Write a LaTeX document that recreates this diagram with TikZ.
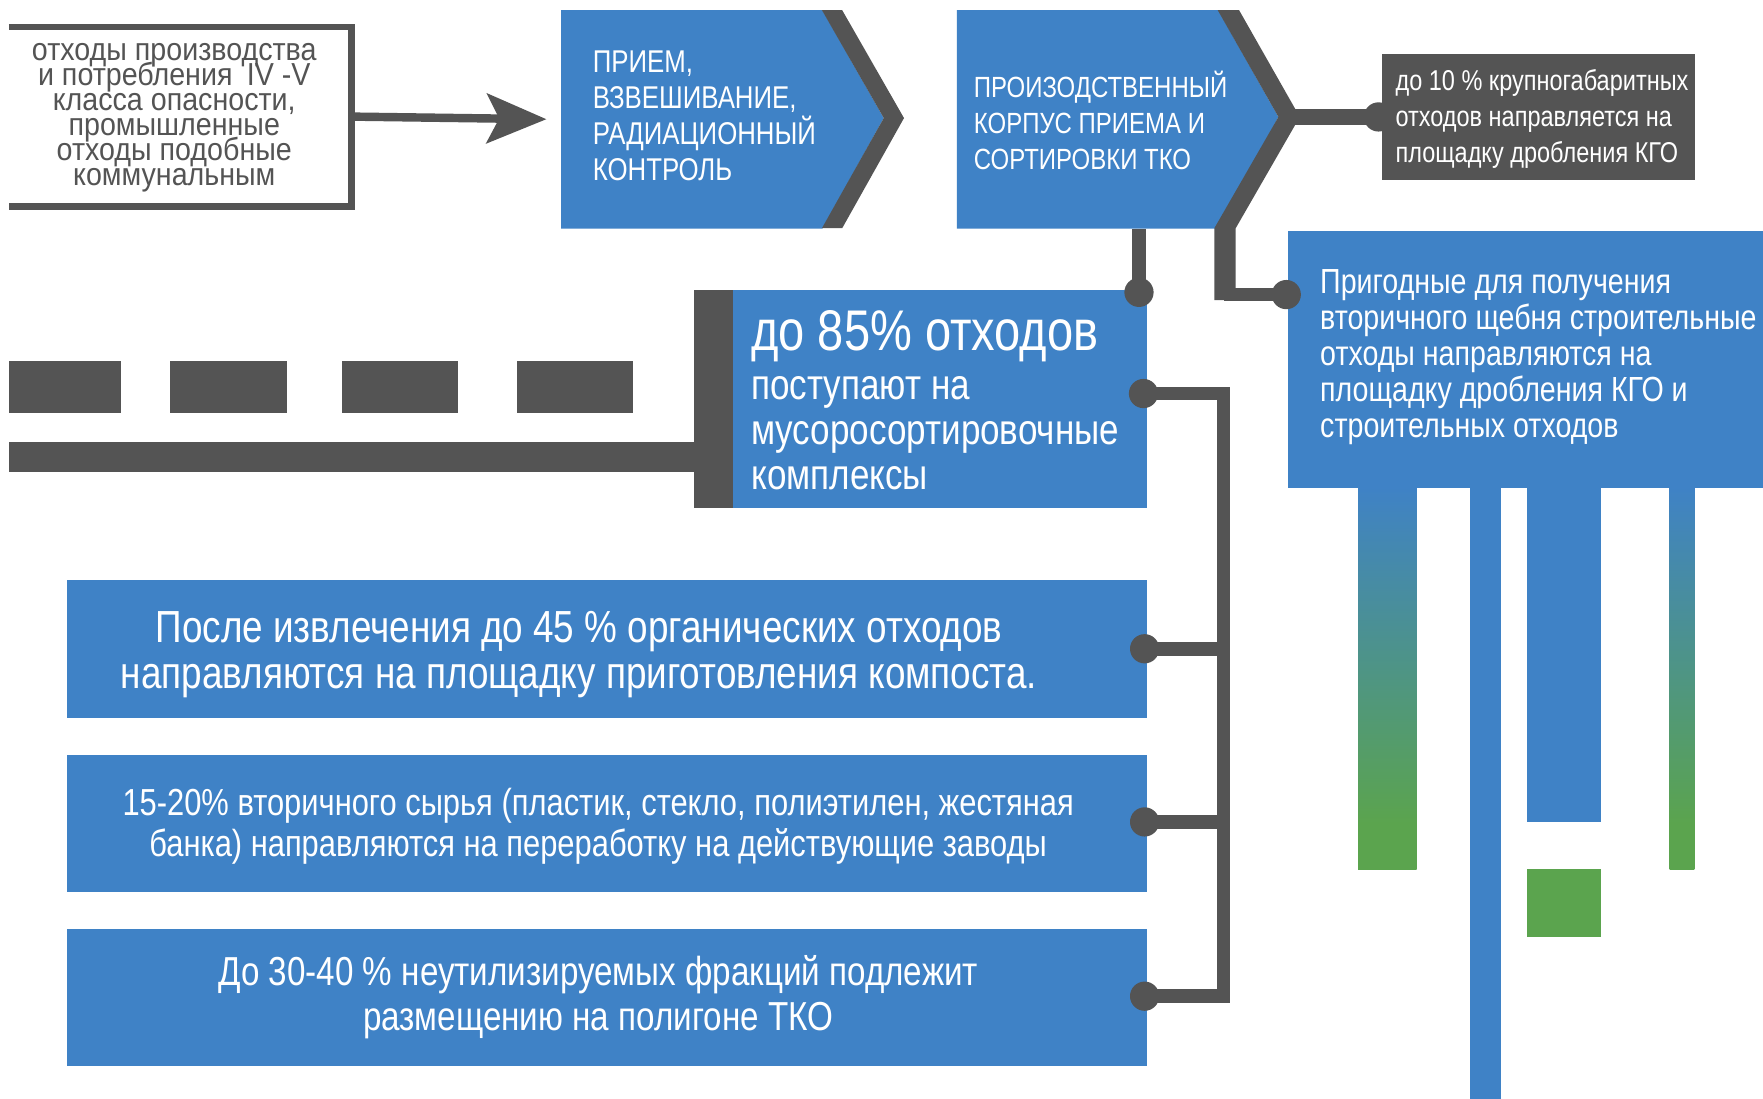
\documentclass[tikz,border=0pt]{standalone}
\usepackage{fontspec}
\setmainfont{Liberation Sans}[FakeStretch=0.82]
\newfontfamily\srcfont{Liberation Sans}[FakeStretch=0.9]
\usetikzlibrary{arrows.meta}
\definecolor{cblue}{RGB}{63,130,198}
\definecolor{cgray}{RGB}{84,84,84}
\definecolor{cgreen}{RGB}{91,164,78}
\newcommand{\fsz}[2]{\fontsize{#1}{#2}\selectfont\lineskiplimit=-100pt\relax}
\pgfdeclareverticalshading{barshade}{100bp}{color(0bp)=(cgreen); color(25bp)=(cgreen); color(31bp)=(cgreen); color(75bp)=(cblue); color(100bp)=(cblue)}
\tikzset{
  rbox/.style={draw=none, inner sep=0pt, anchor=north west},
  wtxt/.style={text=white, inner sep=0pt},
  conn/.style={draw=cgray, line width=12pt},
  jdot/.style={circle, fill=cgray, minimum size=26pt, inner sep=0pt},
  gbar/.style={shading=barshade},
}
\begin{document}
\begin{tikzpicture}[x=1pt,y=-1pt]
\useasboundingbox (0,0) rectangle (1568,977);
\fill[white] (0,0) rectangle (1568,977);

% source box (open on the left)
\node[rbox, minimum width=304pt, minimum height=159pt] (srcbox) at (8,24) {};
\draw[cgray, line width=6pt] (srcbox.north west) -| (srcbox.south east) -- (srcbox.south west);
\node[text=cgray, inner sep=0pt, align=center, font=\srcfont\fsz{28.3}{22.2}] (srctxt) at (155,105)
 {отходы производства\\и потребления\hspace{0.45em}IV -V\\класса опасности,\\промышленные\\отходы подобные\\коммунальным};

% box 1
\node[rbox, minimum width=232pt, minimum height=194pt] (box1) at (499,9) {};
\fill[cblue] (box1.north west) -- (box1.north east) -- (786,105) -- (box1.south east) -- (box1.south west) -- cycle;
\fill[cgray] (731,9) -- (749,9) -- (804,105) -- (749,203) -- (731,203) -- (786,105) -- cycle;
\node[wtxt, anchor=west, align=left, font=\fsz{28}{32}] (box1txt) at (527,103)
 {ПРИЕМ,\\ВЗВЕШИВАНИЕ,\\РАДИАЦИОННЫЙ\\КОНТРОЛЬ};

\draw[cgray, line width=7.5pt, -{Stealth[length=53pt, width=44pt, inset=11pt]}, shorten >=13pt]
  (srcbox.east) -- (box1.west);

% box 2
\node[rbox, minimum width=232pt, minimum height=194pt] (box2) at (851,9) {};
\fill[cblue] (box2.north west) -- (box2.north east) -- (1137,104) -- (box2.south east) -- (box2.south west) -- cycle;
\fill[cgray] (1083,9) -- (1102,9) -- (1156,104) -- (1099,203) -- (1099,267) -- (1080,267) -- (1080,203) -- (1137,104) -- cycle;
\node[wtxt, anchor=west, align=left, font=\fsz{26}{32}] (box2txt) at (866,107)
 {ПРОИЗОДСТВЕННЫЙ\\КОРПУС ПРИЕМА И\\СОРТИРОВКИ ТКО};
\coordinate (tip2) at (1150,104);

% KGO box
\node[rbox, fill=cgray, minimum width=278pt, minimum height=112pt] (kgo) at (1229,48) {};
\node[jdot] (dk) at (1226,104) {};
\draw[conn, line width=14pt] (tip2) -- (dk.center);
\node[wtxt, anchor=west, align=left, font=\fsz{25.5}{32}] (kgotxt) at (1241,106)
 {до 10 \% крупногабаритных\\отходов направляется на\\площадку дробления КГО};

% construction box
\node[rbox, fill=cblue, minimum width=423pt, minimum height=229pt] (cons) at (1145,205) {};
\node[jdot] (dc) at (1144,262) {};
\draw[conn, line width=11.5pt] (1089,262) -- (dc.center);
\node[wtxt, anchor=west, align=left, font=\fsz{31}{32}] (constxt) at (1174,318)
 {Пригодные для получения\\вторичного щебня строительные\\отходы направляются на\\площадку дробления КГО и\\строительных отходов};

% bars
\shade[gbar] (1208,433) rectangle (1260,773);
\fill[cblue] (1307,433) rectangle (1335,977);
\fill[cblue] (1358,433) rectangle (1424,731);
\fill[cgreen] (1358,773) rectangle (1424,833);
\shade[gbar] (1485,433) rectangle (1507,773);

% 85% box
\node[rbox, fill=cgray, minimum width=35pt, minimum height=194pt] (bar85) at (617,258) {};
\node[rbox, fill=cblue, minimum width=368pt, minimum height=194pt] (b85) at (652,258) {};
\node[wtxt, anchor=west, font=\fsz{51}{52}] (b85a) at (668,299) {до 85\% отходов};
\node[wtxt, anchor=west, align=left, font=\fsz{38}{40}] (b85b) at (668,385)
 {поступают на\\мусоросортировочные\\комплексы};

% dashed row and thick line
\fill[cgray] (8,321) rectangle (108,367);
\fill[cgray] (151,321) rectangle (255,367);
\fill[cgray] (304,321) rectangle (407,367);
\fill[cgray] (460,321) rectangle (563,367);
\fill[cgray] (8,393) rectangle (bar85.west |- 0,420);

% connector box2 -> 85
\node[jdot] (d1) at (1013,260) {};
\draw[conn] (d1.center) -- (d1 |- box2.south);

% lower boxes
\node[rbox, fill=cblue, minimum width=961pt, minimum height=122pt] (r1) at (59,516) {};
\node[rbox, fill=cblue, minimum width=961pt, minimum height=122pt] (r2) at (59,671) {};
\node[rbox, fill=cblue, minimum width=961pt, minimum height=122pt] (r3) at (59,826) {};
\node[wtxt, align=center, font=\fsz{40}{41}] (r1txt) at (515,582)
 {После извлечения до 45 \% органических отходов\\направляются на площадку приготовления компоста.};
\node[wtxt, align=center, font=\fsz{33.5}{37}] (r2txt) at (532,735)
 {15-20\% вторичного сырья (пластик, стекло, полиэтилен, жестяная\\банка) направляются на переработку на действующие заводы};
\node[wtxt, align=center, font=\fsz{36}{40}] (r3txt) at (532,887)
 {До 30-40 \% неутилизируемых фракций подлежит\\размещению на полигоне ТКО};

% trunk
\node[jdot] (d2) at (1017,350) {};
\node[jdot] (d3) at (1018,577) {};
\node[jdot] (d4) at (1018,731) {};
\node[jdot] (d5) at (1018,886) {};
\coordinate (tk) at (1088,350);
\draw[conn] (d2.center) -- (tk) |- (d5.center);
\draw[conn] (d3.center) -- (d3 -| tk);
\draw[conn] (d4.center) -- (d4 -| tk);
\end{tikzpicture}
\end{document}
